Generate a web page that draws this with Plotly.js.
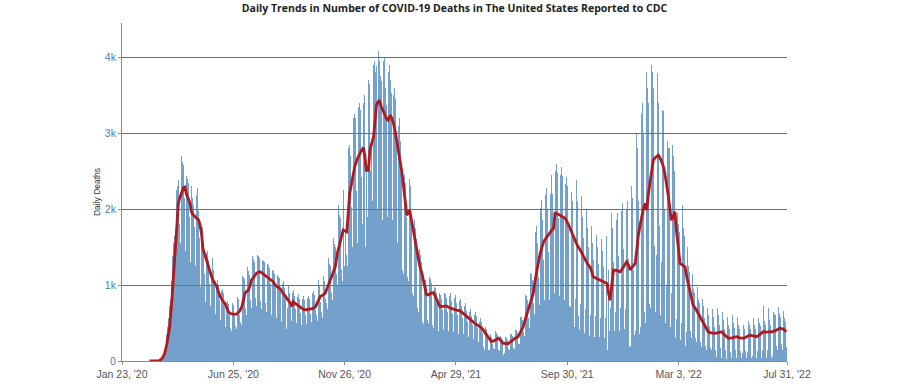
<!DOCTYPE html>
<html>
<head>
<meta charset="utf-8">
<script src="https://cdn.plot.ly/plotly-3.0.1.min.js"></script>
<style>html,body{margin:0;padding:0;background:#fff;}#chart{width:900px;height:389px;}</style>
</head>
<body>
<div id="chart"></div>
<script>
// Daily reported deaths, one row per week (Sun..Sat), starting Sunday 2020-03-01
const dailyStart = '2020-03-01';
const dailyDeaths = [
[0,1,1,2,3,3,2],[4,5,8,10,14,13,16],[25,32,45,58,72,90,98],[150,190,280,360,450,560,670],
[720,820,1050,1230,1380,1560,1640],[1650,1720,2250,2420,2300,2380,2050],[1800,1560,2700,2480,2620,2580,2150],[1680,1450,2440,2560,2390,2350,1900],
[1400,1300,2300,2400,2150,2050,1770],[1330,1250,2180,2280,2100,1980,1620],[1150,980,1700,1760,1650,1560,1140],[880,780,1420,1450,1380,1330,1020],
[720,560,1120,1350,1260,1200,1000],[620,540,1020,1060,1000,980,800],[540,470,920,950,890,870,715],[450,400,760,790,750,720,610],
[430,390,740,770,740,710,595],[460,420,800,840,810,760,600],[520,470,1080,1120,1100,1080,860],[700,600,1200,1240,1180,1130,950],
[800,700,1320,1380,1340,1300,1070],[830,720,1400,1420,1380,1350,1125],[790,680,1330,1390,1320,1300,1065],[760,650,1280,1320,1270,1230,1015],
[700,610,1200,1240,1180,1140,965],[670,570,1130,1170,1110,1090,910],[600,510,1010,1050,1000,960,820],[560,420,700,1000,940,900,730],
[530,470,900,930,880,860,680],[500,440,840,880,830,810,635],[480,420,820,850,800,780,610],[490,430,830,860,810,790,620],
[520,460,890,920,870,850,670],[600,530,1020,1060,990,970,780],[640,560,1080,1120,1050,1030,820],[760,680,1300,1360,1280,1250,1000],
[900,800,1560,1620,1540,1500,1180],[1150,1000,1950,2050,1920,1880,1460],[1200,1050,2250,2350,1250,1700,2100],[1400,1250,2800,3000,2850,2700,2030],
[1600,1500,3200,3350,3250,3200,2240],[1700,1550,3350,3600,3400,3300,2420],[1700,1800,3400,3500,3250,1500,2630],[1600,1900,3700,3650,3750,2500,2850],
[1900,2100,3900,3950,3850,3800,3880],[2000,2050,4080,3950,3900,3750,3685],[1850,1800,3950,4000,3800,3600,3365],[1900,1850,3800,3900,3700,3650,3530],
[1850,1700,3500,3600,3450,3250,3020],[1550,1500,3100,3200,2900,2700,2410],[1200,1150,2300,2450,2350,2100,1890],[1100,1050,2200,2400,2300,2050,1780],
[900,850,1750,1850,1750,1600,1380],[700,650,1400,1480,1400,1300,1120],[520,490,1060,1120,1060,990,850],[540,500,1100,1160,1080,1030,855],
[480,440,980,1020,960,900,750],[430,400,890,930,870,820,665],[440,410,890,940,880,830,650],[420,390,850,890,830,790,625],
[400,380,830,870,810,760,605],[380,360,790,820,770,720,570],[350,330,730,760,710,660,520],[310,290,650,690,640,590,470],
[290,270,600,640,590,540,430],[250,230,520,560,510,470,365],[190,150,380,450,420,370,315],[150,140,330,350,320,300,230],
[170,160,370,400,370,340,255],[140,130,300,330,300,270,210],[80,110,280,320,300,280,205],[160,150,360,390,360,330,245],
[170,160,410,440,410,370,280],[230,220,580,620,580,540,380],[340,330,870,920,860,800,570],[450,430,1160,1220,1140,1070,760],
[650,620,1700,1780,1680,1560,1110],[780,740,2020,2120,2000,1860,1330],[840,800,2180,2280,2150,2000,1440],[800,550,2200,2450,2400,2200,1720],
[900,850,2500,2600,2480,2300,1880],[850,830,2450,2550,2430,2250,1870],[800,780,2330,2420,2300,2130,1735],[730,710,2130,2220,2110,1950,1595],
[450,820,2310,2380,2090,1790,590],[410,745,2100,2170,1900,1620,540],[375,690,1940,2000,1750,1500,495],[330,610,1720,1780,1550,1330,450],
[320,590,1660,1720,1500,1280,420],[310,570,1600,1660,1450,1240,415],[300,560,1650,1700,150,1200,390],[300,700,1950,2000,1750,1300,400],
[330,650,1850,1950,1700,1380,400],[350,700,1980,2080,1820,1470,420],[340,680,2000,2100,1900,1340,180],[200,700,2300,2150,2000,1200,340],
[400,900,3000,2800,2700,2100,350],[450,1100,3250,3400,3000,2500,650],[500,1150,3800,3600,3400,2900,750],[700,1500,3900,3800,3600,3600,1520],
[650,1400,4240,3790,3400,3500,1780],[600,1300,3430,3300,3290,3370,2000],[500,1000,3065,2900,2800,2800,1075],[450,900,2900,2850,2700,2500,1000],
[300,550,2100,1950,1800,1700,595],[280,500,2050,1900,1750,1650,550],[200,380,1500,1400,1250,1170,400],[150,300,1150,1080,950,900,300],
[120,250,980,900,800,760,250],[80,180,820,720,650,570,200],[60,150,700,600,520,460,170],[55,140,680,580,500,450,150],
[50,150,700,600,520,470,170],[45,130,640,540,460,420,145],[30,100,580,480,420,370,120],[40,120,600,500,440,400,140],
[35,110,580,480,420,380,130],[40,110,600,480,420,390,130],[40,120,650,530,470,420,150],[35,60,560,560,480,420,125],
[40,130,690,570,500,460,165],[45,140,720,600,530,480,180],[40,140,700,620,540,480,175],[40,60,650,700,620,600,200],
[45,150,710,680,620,580,225],[40,140,660,620,560,520,190]
];

// 7-day average line: [days since 2020-01-23, deaths]
const avgStart = '2020-01-23';
const avgDay = [38,45,52,56,59,62,66,69,71,73,75,78,80,83,85,87,89,92,94,96,98,101,103,106,108,110,112,115,117,119,122,124,126,129,131,133,136,139,142,145,147,150,152,156,159,161,163,166,168,170,173,175,177,179,182,186,189,191,195,200,205,209,212,214,217,219,223,226,230,233,235,237,239,242,246,251,255,260,265,268,271,274,278,281,284,288,291,295,298,302,304,306,309,311,313,315,318,320,322,325,327,329,332,334,336,338,341,343,345,348,350,352,354,356,359,361,364,366,368,371,373,375,378,380,382,385,387,389,391,394,396,398,400,403,405,408,410,412,415,417,419,421,424,427,431,434,437,440,444,449,453,458,463,468,472,477,482,488,493,498,501,505,508,511,514,517,521,524,527,531,534,537,541,544,548,551,555,558,562,566,569,571,574,577,581,584,588,592,595,597,599,603,606,610,613,617,620,624,627,630,634,637,641,644,648,652,656,661,666,671,673,675,677,680,685,689,694,698,701,703,707,710,712,714,717,719,722,724,726,728,731,733,735,738,742,745,747,749,751,754,756,758,760,762,765,767,770,772,776,779,781,784,787,790,794,797,800,804,807,811,815,820,825,830,834,839,844,850,855,860,864,869,873,878,882,887,892,899,904,910,915,919];
const avgVal = [0,0,5,40,100,220,450,800,1070,1400,1750,2080,2150,2230,2280,2290,2200,2130,2080,1965,1930,1900,1880,1855,1790,1680,1480,1380,1330,1250,1155,1110,1065,1020,980,920,845,800,760,700,650,625,620,615,620,635,660,720,820,890,920,935,990,1065,1100,1155,1170,1175,1150,1110,1075,1045,1000,980,965,950,890,850,800,760,715,780,760,737,710,680,675,685,693,720,790,845,870,890,960,1065,1150,1240,1420,1590,1680,1725,1710,1700,1950,2205,2360,2470,2560,2645,2700,2730,2780,2810,2700,2510,2510,2775,2850,2950,3150,3370,3410,3425,3345,3300,3215,3190,3170,3235,3200,3150,3020,2910,2780,2645,2500,2340,2150,1920,1950,1985,1880,1725,1590,1460,1350,1250,1150,1065,970,880,870,890,900,830,770,715,720,725,700,680,670,660,625,585,545,495,465,430,390,340,300,255,265,285,300,270,235,228,225,250,285,300,320,370,450,550,670,780,890,1030,1200,1350,1505,1580,1635,1700,1730,1745,1945,1935,1920,1900,1880,1810,1745,1660,1590,1520,1460,1400,1330,1280,1230,1110,1090,1065,1040,1020,900,800,950,1200,1190,1175,1240,1305,1260,1200,1250,1285,1450,1635,1800,1900,2030,2075,1985,2180,2380,2520,2645,2680,2710,2660,2620,2560,2470,2300,2160,2000,1855,1880,1965,1725,1450,1285,1260,1240,1120,980,850,737,680,625,580,517,460,385,370,365,375,385,340,300,305,320,305,300,320,340,330,320,345,385,380,385,400,430,420,385];

// Axis ticks
const tickDates = ['2020-01-23','2020-06-25','2020-11-26','2021-04-29','2021-09-30','2022-03-03','2022-07-31'];
const tickLabels = ["Jan 23, '20","Jun 25, '20","Nov 26, '20","Apr 29, '21","Sep 30, '21","Mar 3, '22","Jul 31, '22"];
const yTickVals = [0,1000,2000,3000,4000];
const yTickText = ['0','1k','2k','3k','4k'];

const DAY = 86400000;
function addDays(iso, n){ const t = Date.parse(iso + 'T00:00:00Z') + n*DAY; return new Date(t).toISOString().slice(0,10); }

const barY = dailyDeaths.flat();
const barX = barY.map((_, i) => addDays(dailyStart, i));
const lineX = avgDay.map(d => addDays(avgStart, d));

const traces = [
  { type:'bar', x:barX, y:barY, marker:{color:'rgba(72,130,188,0.76)', line:{width:0}}, hoverinfo:'x+y', name:'Daily Deaths' },
  { type:'scatter', mode:'lines', x:lineX, y:avgVal, line:{color:'#b0191e', width:2.8}, name:'7-Day Moving Average' }
];

const layout = {
  width:900, height:389,
  margin:{l:122, r:113, t:23, b:28, pad:0},
  paper_bgcolor:'#fff', plot_bgcolor:'#fff',
  showlegend:false, bargap:0,
  font:{family:'"Liberation Sans", Arial, sans-serif', size:10, color:'#555'},
  title:{text:'<b>Daily Trends in Number of COVID-19 Deaths in The United States Reported to CDC</b>',
         font:{family:'"Open Sans", sans-serif', size:10.5, color:'#222'},
         x:0.5, xref:'paper', xanchor:'center', y:0.979, yref:'container', yanchor:'middle'},
  xaxis:{type:'date', range:['2020-01-23','2022-07-31'], tickvals:tickDates, ticktext:tickLabels,
         showgrid:false, showline:true, linecolor:'#8a8a8a', linewidth:1,
         ticks:'outside', ticklen:3, tickcolor:'#8a8a8a', tickfont:{size:10.5, color:'#555'}, zeroline:false},
  yaxis:{range:[0,4450], tickvals:yTickVals, ticktext:yTickText, showgrid:true, gridcolor:'#6f6f6f', gridwidth:1,
         showline:true, linecolor:'#8a8a8a', linewidth:1, ticks:'outside', ticklen:3, tickcolor:'#8a8a8a',
         tickfont:{size:10.5, color:'#4a7fb8'}, zeroline:false,
         title:{text:'Daily Deaths', font:{size:8.5, color:'#333'}, standoff:2}}
};

Plotly.newPlot('chart', traces, layout, {displayModeBar:false, staticPlot:true});
</script>
</body>
</html>
